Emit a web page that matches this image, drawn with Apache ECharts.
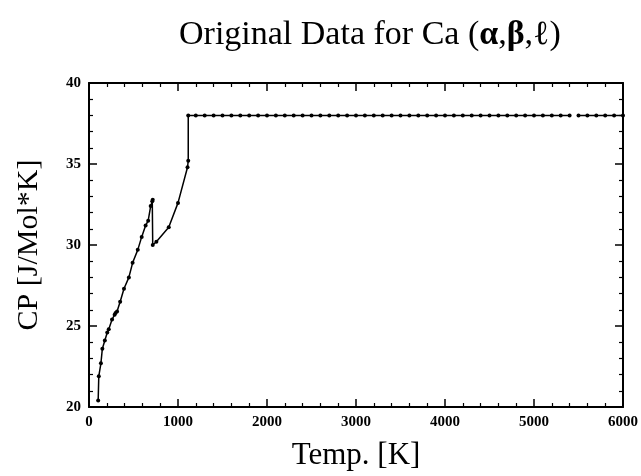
<!DOCTYPE html>
<html>
<head>
<meta charset="utf-8">
<script src="https://cdn.jsdelivr.net/npm/echarts@6/dist/echarts.min.js"></script>
<style>html,body{margin:0;padding:0;background:#fff}#c{width:641px;height:476px}</style>
</head>
<body>
<div id="c"></div>
<script>
// alpha phase (solid)
const alphaT  = [103, 110, 134, 150, 178, 205, 222, 259, 288, 298, 315, 350, 393, 448, 490, 548, 592, 636, 665, 693, 711, 716];
const alphaCp = [20.4, 21.9, 22.7, 23.6, 24.1, 24.6, 24.8, 25.4, 25.7, 25.8, 25.9, 26.5, 27.3, 28.0, 28.9, 29.7, 30.5, 31.2, 31.5, 32.4, 32.7, 32.8];
// beta phase (solid)
const betaT  = [716, 757, 896, 1000, 1107, 1115];
const betaCp = [30.0, 30.2, 31.1, 32.6, 34.8, 35.2];
// liquid
const liqT = [1115,1200,1300,1400,1500,1600,1700,1800,1900,2000,2100,2200,2300,2400,2500,2600,2700,2800,2900,3000,3100,3200,3300,3400,3500,3600,3700,3800,3900,4000,4100,4200,4300,4400,4500,4600,4700,4800,4900,5000,5100,5200,5300,5400,5450,5500,5600,5700,5800,5900,6000];
const liqCp = [38.0,38.0,38.0,38.0,38.0,38.0,38.0,38.0,38.0,38.0,38.0,38.0,38.0,38.0,38.0,38.0,38.0,38.0,38.0,38.0,38.0,38.0,38.0,38.0,38.0,38.0,38.0,38.0,38.0,38.0,38.0,38.0,38.0,38.0,38.0,38.0,38.0,38.0,38.0,38.0,38.0,38.0,38.0,38.0,'-',38.0,38.0,38.0,38.0,38.0,38.0];
const xTicks = [0, 1000, 2000, 3000, 4000, 5000, 6000];
const yTicks = [20, 25, 30, 35, 40];

const serif = 'Liberation Serif';
const allT = alphaT.concat(betaT, liqT);
const allCp = alphaCp.concat(betaCp, liqCp);
const pts = allT.map((t, i) => [t, allCp[i]]);

const axisCommon = {
  axisLine: {show: true, onZero: false, lineStyle: {color: '#000', width: 2}},
  axisTick: {show: true, inside: true, length: 8, lineStyle: {color: '#000', width: 1.5}},
  minorTick: {show: true, splitNumber: 5, length: 4, lineStyle: {color: '#000', width: 1.2}},
  splitLine: {show: false}
};
const lbl = {fontFamily: serif, fontSize: 15, fontWeight: 'bold', color: '#000'};

const chart = echarts.init(document.getElementById('c'), null, {renderer: 'canvas'});
chart.setOption({
  backgroundColor: '#fff',
  animation: false,
  title: {
    text: '{n|Original Data for Ca (}{b|α}{n|,}{b|β}{n|,ℓ)}',
    left: 174, top: 13,
    textStyle: {
      fontWeight: 'normal',
      rich: {
        n: {fontFamily: serif, fontSize: 34, fontWeight: 'normal', color: '#000'},
        b: {fontFamily: serif, fontSize: 34, fontWeight: 'bold', color: '#000'}
      }
    }
  },
  grid: {left: 89, right: 10, top: 83, bottom: 60},
  xAxis: [
    Object.assign({}, axisCommon, {
      type: 'value', min: xTicks[0], max: xTicks[xTicks.length-1], interval: 1000,
      name: 'Temp. [K]', nameLocation: 'middle', nameGap: 33,
      nameTextStyle: {fontFamily: serif, fontSize: 31, color: '#000'},
      axisLabel: Object.assign({margin: 8, formatter: v => String(v)}, lbl)
    }),
    Object.assign({}, axisCommon, {
      type: 'value', position: 'top', min: xTicks[0], max: xTicks[xTicks.length-1], interval: 1000,
      axisLabel: {show: false}
    })
  ],
  yAxis: [
    Object.assign({}, axisCommon, {
      type: 'value', min: yTicks[0], max: yTicks[yTicks.length-1], interval: 5,
      name: 'CP [J/Mol*K]', nameLocation: 'middle', nameGap: 45, nameRotate: 90,
      nameTextStyle: {fontFamily: serif, fontSize: 30, color: '#000'},
      axisLabel: Object.assign({margin: 8, formatter: v => String(v)}, lbl)
    }),
    Object.assign({}, axisCommon, {
      type: 'value', position: 'right', min: yTicks[0], max: yTicks[yTicks.length-1], interval: 5,
      axisLabel: {show: false}
    })
  ],
  series: [{
    type: 'line',
    data: pts,
    connectNulls: false,
    symbol: 'circle', symbolSize: 4,
    itemStyle: {color: '#000'},
    lineStyle: {color: '#000', width: 1.5}
  }]
});
</script>
</body>
</html>
